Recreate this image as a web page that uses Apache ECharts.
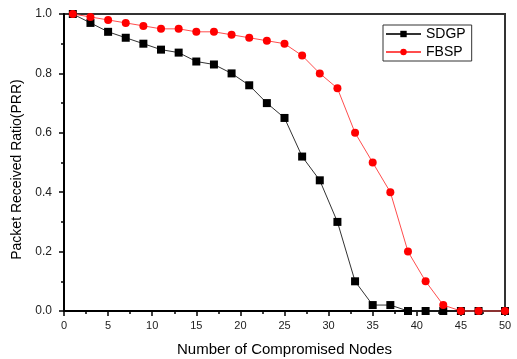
<!DOCTYPE html>
<html>
<head>
<meta charset="utf-8">
<script src="https://cdn.jsdelivr.net/npm/echarts@6/dist/echarts.min.js"></script>
<style>html,body{margin:0;padding:0;background:#fff}#c{width:517px;height:359px}</style>
</head>
<body>
<div id="c"></div>
<script>
var xValues = [1,3,5,7,9,11,13,15,17,19,21,23,25,27,29,31,33,35,37,39,41,43,45,47,50];
var sdgp = [1.0,0.97,0.94,0.92,0.90,0.88,0.87,0.84,0.83,0.80,0.76,0.70,0.65,0.52,0.44,0.30,0.10,0.02,0.02,0,0,0,0,0,0];
var fbsp = [1.0,0.99,0.98,0.97,0.96,0.95,0.95,0.94,0.94,0.93,0.92,0.91,0.90,0.86,0.80,0.75,0.60,0.50,0.40,0.20,0.10,0.02,0,0,0];
var seriesNames = ['SDGP','FBSP'];
var xTitle = 'Number of Compromised Nodes';
var yTitle = 'Packet Received Ratio(PRR)';

function pairs(xs, ys){ return xs.map(function(x,i){ return [x, ys[i]]; }); }

var font = 'Arial, "Liberation Sans", sans-serif';
var chart = echarts.init(document.getElementById('c'));
chart.setOption({
  animation: false,
  backgroundColor: '#fff',
  grid: { left: 64, right: 12, top: 14, bottom: 48, show: true, borderColor: '#333', borderWidth: 2,
          containLabel: false, outerBoundsMode: 'none' },
  legend: {
    orient: 'vertical', left: 383, top: 25,
    padding: [2, 6, 2, 2],
    itemGap: 4, itemWidth: 35, itemHeight: 8,
    borderColor: '#333', borderWidth: 1,
    textStyle: { fontFamily: font, fontSize: 14, color: '#000' },
    data: seriesNames
  },
  xAxis: {
    type: 'value', min: 0, max: 50, interval: 5,
    name: xTitle, nameLocation: 'middle', nameGap: 31,
    nameTextStyle: { fontFamily: font, fontSize: 15, color: '#000' },
    axisLine: { onZero: false, lineStyle: { color: '#000', width: 2 } },
    axisTick: { show: true, length: 5, lineStyle: { color: '#000', width: 1.5 } },
    minorTick: { show: true, splitNumber: 2, length: 3, lineStyle: { color: '#000', width: 1.5 } },
    axisLabel: { fontFamily: font, fontSize: 11, color: '#222', margin: 9 },
    splitLine: { show: false }
  },
  yAxis: {
    type: 'value', min: 0, max: 1, interval: 0.2,
    name: yTitle, nameLocation: 'middle', nameGap: 30, nameRotate: 90,
    nameTextStyle: { fontFamily: font, fontSize: 14, color: '#000', padding: [0, 14, 0, 0] },
    axisLine: { onZero: false, lineStyle: { color: '#000', width: 2 } },
    axisTick: { show: true, length: 5, lineStyle: { color: '#000', width: 1.5 } },
    minorTick: { show: true, splitNumber: 2, length: 3, lineStyle: { color: '#000', width: 1.5 } },
    axisLabel: { fontFamily: font, fontSize: 12, color: '#222', margin: 12,
      formatter: function(v){ return v.toFixed(1); } },
    splitLine: { show: false }
  },
  series: [
    {
      name: seriesNames[0], type: 'line', data: pairs(xValues, sdgp),
      symbol: 'rect', symbolSize: 8, clip: false,
      lineStyle: { color: '#333', width: 1 },
      itemStyle: { color: '#000' }
    },
    {
      name: seriesNames[1], type: 'line', data: pairs(xValues, fbsp),
      symbol: 'circle', symbolSize: 8, clip: false,
      lineStyle: { color: '#ff4d4d', width: 1 },
      itemStyle: { color: '#ff0000' }
    }
  ]
});
</script>
</body>
</html>
